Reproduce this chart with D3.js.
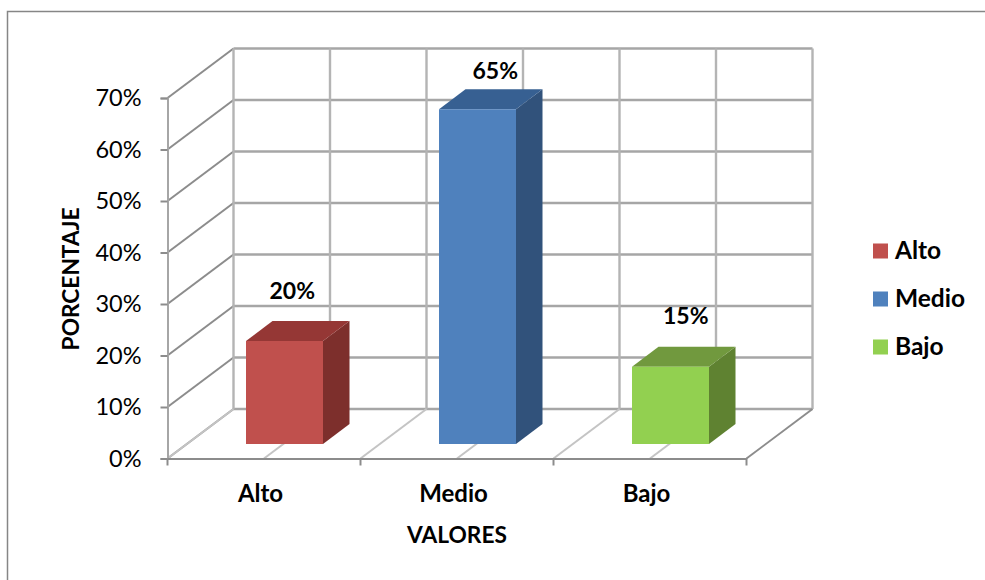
<!DOCTYPE html>
<html><head><meta charset="utf-8">
<script src="https://cdn.jsdelivr.net/npm/d3@7"></script>
<style>html,body{margin:0;padding:0;background:#fff}svg{display:block}
text{font-family:Lato,"Open Sans",sans-serif;fill:#000}</style></head>
<body><svg id="c" width="985" height="580"></svg>
<script>
const categories=["Alto","Medio","Bajo"];
const values=[20,65,15];
const yTicks=[0,10,20,30,40,50,60,70];
const faceColors=["#C0504D","#4F81BD","#92D050"];
const topColors=["#953735","#376092","#71993E"];
const sideColors=["#7D2F2C","#31527B","#5F8231"];

const svg=d3.select("#c");
const x0=167.5,x1=746.5,yB=458.5,yT=98;
const dx=66,dy=-49.5,bdx=26.5,bdy=-20;
const x=d3.scaleBand().domain(categories).range([x0,x1]);
const y=d3.scaleLinear().domain([0,70]).range([yB,yT]);
const gridX=d3.range(0,7).map(i=>x0+i*x.bandwidth()/2);

// outer frame
svg.append("path").attr("d","M7.5,580V11.5H985").attr("fill","none").attr("stroke","#868686").attr("stroke-width",1.5);

const g=svg.append("g");
yTicks.forEach(t=>{
  g.append("line").attr("x1",x0+dx).attr("x2",x1+dx).attr("y1",y(t)+dy).attr("y2",y(t)+dy).attr("stroke","#a6a6a6").attr("stroke-width",2.4);
  g.append("line").attr("x1",x0).attr("x2",x0+dx).attr("y1",y(t)).attr("y2",y(t)+dy).attr("stroke","#8c8c8c").attr("stroke-width",2);
});
gridX.forEach((gx,i)=>{
  g.append("line").attr("x1",gx+dx).attr("x2",gx+dx).attr("y1",y(0)+dy).attr("y2",y(70)+dy).attr("stroke","#b4b4b4").attr("stroke-width",2.4);
  g.append("line").attr("x1",gx).attr("x2",gx+dx).attr("y1",yB).attr("y2",yB+dy)
    .attr("stroke",i===6?"#8c8c8c":"#c4c4c4").attr("stroke-width",2);
});
const axisL=svg.append("g").attr("transform",`translate(${x0},0)`)
  .call(d3.axisLeft(y).tickValues(yTicks).tickSize(7).tickPadding(19).tickFormat(d=>d+"%"));
axisL.select(".domain").attr("stroke","#a6a6a6").attr("stroke-width",2);
axisL.selectAll(".tick line").attr("stroke","#8c8c8c").attr("stroke-width",2);
axisL.selectAll("text").style("font-size","23.5px").style("font-family","Lato").attr("fill","#000");
const axisB=svg.append("g").attr("transform",`translate(0,${yB})`)
  .call(d3.axisBottom(x).tickSize(0).tickPadding(26));
axisB.select(".domain").attr("stroke","#8c8c8c").attr("stroke-width",2);
axisB.selectAll("text").attr("dx",-3.5).style("font-size","24px").style("font-weight","700").style("font-family","Lato").attr("fill","#000");
categories.concat("end").forEach((c,i)=>{
  const tx=x0+i*x.bandwidth();
  axisB.append("line").attr("x1",tx).attr("x2",tx).attr("y1",0).attr("y2",7).attr("stroke","#8c8c8c").attr("stroke-width",2);
});

// bars
const barW=77,floorShiftX=20.5,floorShiftY=-14.5;
const labelDx=[0,10,7.5],labelDy=[-0.5,12,-1];
categories.forEach((c,i)=>{
  const L=x(c)+x.bandwidth()/2-barW/2+floorShiftX, R=L+barW;
  const B=y(0)+floorShiftY, T=y(values[i])+floorShiftY;
  const b=svg.append("g");
  b.append("path").attr("fill",sideColors[i]).attr("d",`M${R},${T}L${R+bdx},${T+bdy}V${B+bdy}L${R},${B}Z`);
  b.append("path").attr("fill",topColors[i]).attr("d",`M${L},${T}L${L+bdx},${T+bdy}H${R+bdx}L${R},${T}Z`);
  b.append("rect").attr("x",L).attr("y",T).attr("width",barW).attr("height",B-T).attr("fill",faceColors[i]);
  svg.append("text").attr("x",(L+R)/2+bdx/2-5.5+labelDx[i]).attr("y",T+bdy-22+labelDy[i])
    .attr("text-anchor","middle").style("font-size","23px").style("font-weight","700").text(values[i]+"%");
});

// titles
svg.append("text").attr("x",457).attr("y",543).attr("text-anchor","middle").style("font-size","22.7px").style("font-weight","700").text("VALORES");
svg.append("text").attr("transform","translate(79,279) rotate(-90)").attr("text-anchor","middle").style("font-size","22.7px").style("font-weight","700").text("PORCENTAJE");

// legend
const legY=d3.scalePoint().domain(categories).range([251,347]);
categories.forEach((c,i)=>{
  svg.append("rect").attr("x",873).attr("y",legY(c)-7.5).attr("width",15).attr("height",15).attr("fill",faceColors[i]);
  svg.append("text").attr("x",895).attr("y",legY(c)+8).style("font-size","24.5px").style("font-weight","700").text(c);
});
</script></body></html>
